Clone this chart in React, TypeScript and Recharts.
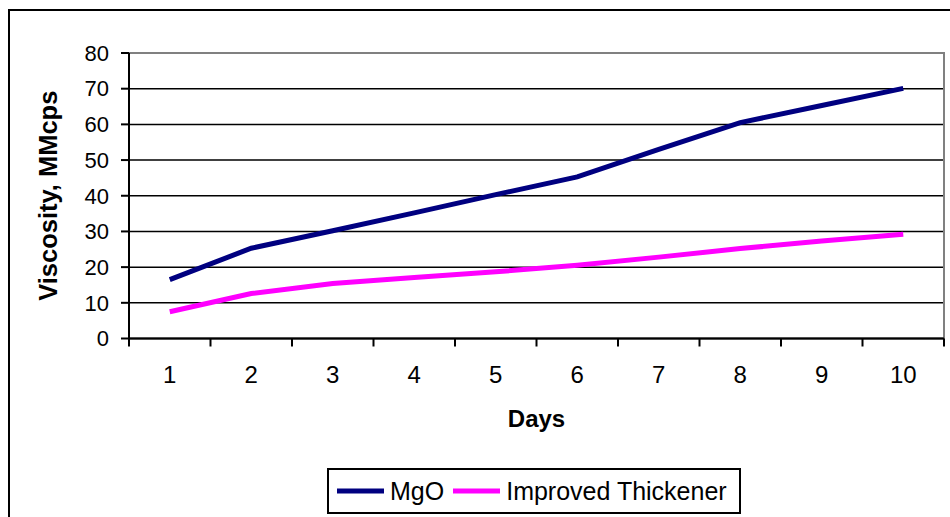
import React from "react";
import { LineChart, Line, XAxis, YAxis, CartesianGrid, ReferenceArea, Legend } from "recharts";

const days = [1, 2, 3, 4, 5, 6, 7, 8, 9, 10];
const mgo = [16.5, 25.3, 30.2, 35.2, 40.3, 45.3, 53, 60.5, 65.3, 70.1];
const improved = [7.5, 12.6, 15.4, 17.1, 18.7, 20.5, 22.8, 25.2, 27.3, 29.2];
const seriesNames = ["MgO", "Improved Thickener"];
const yTicks = [0, 10, 20, 30, 40, 50, 60, 70, 80];
const xTicks = [1, 2, 3, 4, 5, 6, 7, 8, 9, 10];
const xBoundaryTicks = [0.5, 1.5, 2.5, 3.5, 4.5, 5.5, 6.5, 7.5, 8.5, 9.5, 10.5];

const data = days.map((d, i) => ({ day: d, mgo: mgo[i], improved: improved[i] }));

const FONT = "Arial, 'Liberation Sans', sans-serif";

const LegendBox = (props: any) => {
  const payload = [...(props.payload || [])].sort(
    (a: any, b: any) => seriesNames.indexOf(a.value) - seriesNames.indexOf(b.value)
  );
  return (
    <div
      style={{
        boxSizing: "border-box",
        width: 414,
        height: 46,
        border: "2px solid #000",
        background: "#fff",
        display: "flex",
        alignItems: "center",
        paddingLeft: 8,
        fontFamily: FONT,
        fontSize: 25,
        color: "#000",
        whiteSpace: "nowrap",
      }}
    >
      {payload.map((p: any, i: number) => (
        <div key={i} style={{ display: "flex", alignItems: "center", marginRight: 9 }}>
          <svg width={47} height={6} style={{ marginRight: 6 }}>
            <line x1={0} y1={3} x2={47} y2={3} stroke={p.color} strokeWidth={5} />
          </svg>
          <span>{p.value}</span>
        </div>
      ))}
    </div>
  );
};

export default function App() {
  return (
    <div style={{ position: "absolute", left: 0, top: 0, width: 950, height: 517, overflow: "hidden", background: "#fff" }}>
      <LineChart
        width={950}
        height={517}
        data={data}
        margin={{ top: 53, right: 6, left: 0, bottom: 88.5 }}
        style={{ fontFamily: FONT }}
      >
        <CartesianGrid horizontal={true} vertical={false} stroke="#000" strokeWidth={1.5} xAxisId="b" />
        <ReferenceArea xAxisId="b" x1={0.5} x2={10.5} y1={0} y2={80} fill="none" stroke="#808080" strokeWidth={2} />
        <XAxis
          xAxisId="a"
          type="number"
          dataKey="day"
          domain={[0.5, 10.5]}
          ticks={xBoundaryTicks}
          interval={0}
          height={1}
          tickSize={8}
          tickFormatter={() => ""}
          tickLine={{ stroke: "#000", strokeWidth: 2 }}
          axisLine={{ stroke: "#000", strokeWidth: 2 }}
          allowDataOverflow
        />
        <XAxis
          xAxisId="b"
          type="number"
          dataKey="day"
          domain={[0.5, 10.5]}
          ticks={xTicks}
          interval={0}
          height={89}
          tickSize={0}
          tickMargin={26}
          tickLine={false}
          axisLine={false}
          tick={{ fill: "#000", fontSize: 24, fontFamily: FONT }}
          label={{ value: "Days", position: "insideTop", offset: 70, fill: "#000", fontSize: 24, fontWeight: "bold", fontFamily: FONT }}
          allowDataOverflow
        />
        <YAxis
          type="number"
          domain={[0, 80]}
          ticks={yTicks}
          interval={0}
          width={129}
          tickSize={8}
          tickMargin={12}
          tickLine={{ stroke: "#000", strokeWidth: 2 }}
          axisLine={{ stroke: "#000", strokeWidth: 2 }}
          tick={{ fill: "#000", fontSize: 22, fontFamily: FONT }}
          label={{
            value: "Viscosity, MMcps",
            angle: -90,
            position: "insideLeft",
            offset: 48,
            fill: "#000",
            fontSize: 25.5,
            fontWeight: "bold",
            fontFamily: FONT,
            style: { textAnchor: "middle" },
          }}
        />
        <Legend
          layout="horizontal"
          align="center"
          verticalAlign="middle"
          content={<LegendBox />}
          wrapperStyle={{ position: "absolute", left: 327, top: 468, width: 414, height: 46 }}
        />
        <Line
          xAxisId="b"
          type="linear"
          dataKey="mgo"
          name={seriesNames[0]}
          stroke="#000080"
          strokeWidth={5}
          dot={false}
          activeDot={false}
          isAnimationActive={false}
        />
        <Line
          xAxisId="b"
          type="linear"
          dataKey="improved"
          name={seriesNames[1]}
          stroke="#FF00FF"
          strokeWidth={5}
          dot={false}
          activeDot={false}
          isAnimationActive={false}
        />
      </LineChart>
      <div
        style={{
          position: "absolute",
          left: 8,
          top: 9,
          width: 1000,
          height: 600,
          border: "2px solid #000",
          pointerEvents: "none",
        }}
      />
    </div>
  );
}
